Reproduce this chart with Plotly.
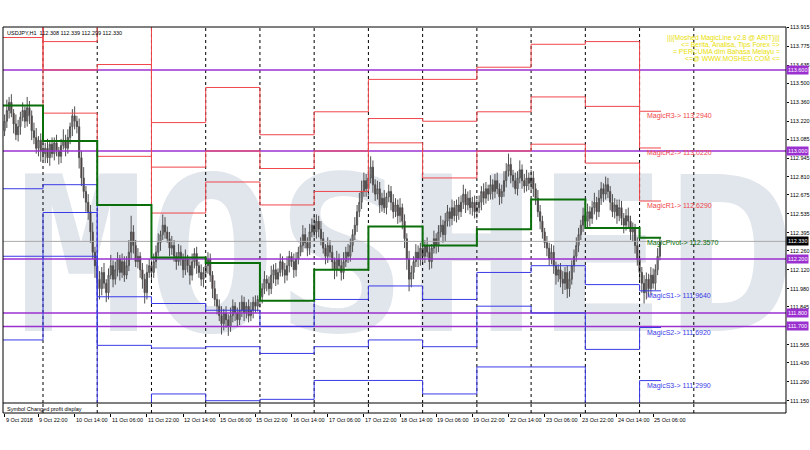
import plotly.graph_objects as go

# ---------------- data ----------------
first_bar = 2
first_open = 113.15
closes = [
    # 9 Oct (bars 2-18)
    113.22, 113.30, 113.36, 113.28, 113.20, 113.12, 113.18, 113.25, 113.30, 113.22, 113.32, 113.26, 113.15, 113.10, 113.02, 113.08, 113.00,
    # 10 Oct
    112.98, 113.02, 112.95, 113.05, 112.98, 113.06, 113.00, 112.96, 113.04, 113.08, 113.02, 113.10, 113.18, 113.26, 113.22, 113.18, 112.95, 112.80, 112.70, 112.62, 112.55, 112.40, 112.25, 112.15,
    # 11 Oct
    112.05, 111.98, 112.10, 112.02, 111.95, 112.08, 112.15, 112.05, 112.12, 112.20, 112.10, 112.18, 112.08, 112.15, 112.25, 112.40, 112.30, 112.18, 112.22, 112.12, 112.05, 111.95, 112.10, 112.15,
    # 12 Oct
    112.10, 112.18, 112.25, 112.32, 112.38, 112.45, 112.40, 112.35, 112.28, 112.30, 112.22, 112.18, 112.25, 112.20, 112.12, 112.20, 112.15, 112.08, 112.18, 112.24, 112.15, 112.10, 112.05, 112.10,
    # 15 Oct
    112.15, 112.20, 112.08, 111.98, 111.90, 111.85, 111.78, 111.72, 111.80, 111.75, 111.70, 111.78, 111.85, 111.80, 111.75, 111.82, 111.88, 111.80, 111.85, 111.78, 111.82, 111.88, 111.85, 111.90,
    # 16 Oct
    111.92, 111.98, 112.05, 112.02, 111.98, 112.08, 112.12, 112.05, 112.10, 112.18, 112.12, 112.08, 112.15, 112.22, 112.18, 112.12, 112.20, 112.25, 112.30, 112.38, 112.32, 112.28, 112.40, 112.45,
    # 17 Oct
    112.40, 112.48, 112.42, 112.35, 112.28, 112.22, 112.30, 112.25, 112.18, 112.12, 112.20, 112.15, 112.10, 112.18, 112.25, 112.22, 112.30, 112.38, 112.45, 112.55, 112.62, 112.70, 112.78, 112.72,
    # 18 Oct
    112.80, 112.88, 112.75, 112.68, 112.72, 112.60, 112.65, 112.58, 112.66, 112.70, 112.62, 112.55, 112.60, 112.52, 112.58, 112.48, 112.35, 112.20, 112.05, 112.10, 112.18, 112.25, 112.20, 112.28,
    # 19 Oct
    112.22, 112.30, 112.25, 112.18, 112.28, 112.35, 112.30, 112.40, 112.45, 112.38, 112.48, 112.55, 112.50, 112.58, 112.52, 112.60, 112.55, 112.62, 112.68, 112.60, 112.65, 112.58, 112.62, 112.55,
    # 22 Oct
    112.58, 112.62, 112.70, 112.65, 112.72, 112.68, 112.75, 112.70, 112.78, 112.72, 112.66, 112.70, 112.78, 112.85, 112.90, 112.82, 112.78, 112.72, 112.80, 112.86, 112.78, 112.74, 112.80, 112.76,
    # 23 Oct
    112.80, 112.72, 112.65, 112.55, 112.48, 112.40, 112.32, 112.28, 112.20, 112.25, 112.15, 112.08, 112.12, 112.05, 112.02, 112.10, 111.98, 112.05, 112.15, 112.22, 112.30, 112.38, 112.45, 112.52,
    # 24 Oct
    112.48, 112.55, 112.50, 112.58, 112.62, 112.55, 112.65, 112.72, 112.68, 112.75, 112.70, 112.62, 112.55, 112.60, 112.52, 112.58, 112.50, 112.45, 112.52, 112.48, 112.40, 112.42, 112.30, 112.20,
    # 25 Oct
    112.10, 112.02, 111.95, 112.05, 111.98, 112.08, 112.02, 112.12, 112.22, 112.33,
]
# wick lengths in 0.01 yen
up_wick = [
    5, 8, 4, 6, 3, 7, 5, 4, 6, 3, 8, 5, 4, 6, 7, 3, 5,
    6, 4, 7, 3, 5, 4, 6, 3, 5, 8, 4, 6, 3, 5, 7, 4, 6, 5, 8, 4, 6, 5, 7, 4,
    5, 6, 4, 7, 3, 5, 8, 4, 6, 5, 3, 6, 4, 7, 9, 12, 5, 4, 6, 3, 5, 4, 6, 5,
    4, 6, 5, 7, 3, 8, 6, 4, 5, 7, 4, 3, 6, 5, 4, 7, 3, 5, 6, 4, 5, 3, 6, 4,
    6, 5, 4, 3, 6, 4, 5, 7, 3, 5, 4, 6, 5, 3, 4, 6, 5, 4, 3, 5, 6, 4, 5, 3,
    5, 4, 6, 3, 5, 7, 4, 5, 3, 6, 4, 5, 7, 4, 3, 6, 5, 4, 6, 7, 5, 4, 6, 5,
    7, 5, 4, 6, 5, 3, 6, 4, 5, 3, 6, 4, 5, 7, 4, 6, 5, 4, 6, 5, 7, 8, 6, 5,
    6, 8, 5, 4, 6, 5, 4, 6, 3, 5, 4, 6, 5, 4, 7, 3, 5, 4, 6, 5, 4, 6, 5, 4,
    5, 4, 6, 5, 3, 6, 4, 5, 7, 4, 6, 5, 3, 6, 5, 4, 6, 5, 7, 4, 5, 6, 4, 5,
    6, 5, 4, 6, 5, 3, 7, 4, 5, 6, 4, 5, 7, 6, 8, 5, 4, 6, 5, 7, 4, 5, 6, 4,
    6, 5, 4, 6, 5, 4, 3, 5, 4, 6, 5, 3, 4, 5, 6, 4, 5, 6, 4, 5, 6, 5, 4, 6,
    5, 6, 4, 5, 7, 4, 6, 5, 4, 6, 5, 4, 6, 5, 4, 6, 5, 4, 5, 6, 4, 5, 4, 6,
    5, 4, 6, 5, 4, 6, 5, 4, 6, 3,
]
dn_wick = [
    4, 5, 6, 3, 7, 4, 5, 6, 3, 5, 4, 6, 7, 5, 4, 6, 8,
    5, 7, 4, 6, 3, 5, 4, 6, 5, 3, 6, 4, 5, 7, 6, 5, 8, 6, 5, 7, 6, 8, 5, 9,
    6, 8, 5, 4, 7, 5, 3, 6, 4, 5, 6, 4, 5, 3, 4, 5, 6, 4, 5, 6, 7, 8, 5, 4,
    6, 4, 5, 3, 6, 4, 5, 3, 6, 5, 4, 6, 3, 5, 6, 4, 5, 7, 4, 5, 6, 4, 5, 6,
    4, 6, 5, 7, 5, 6, 4, 8, 5, 6, 7, 4, 5, 6, 5, 4, 5, 6, 4, 5, 4, 6, 5, 4,
    6, 5, 4, 6, 5, 4, 6, 5, 4, 3, 5, 6, 4, 5, 4, 6, 5, 4, 3, 5, 4, 6, 5, 4,
    4, 5, 6, 5, 4, 6, 5, 4, 6, 7, 5, 4, 6, 5, 4, 5, 4, 5, 4, 5, 4, 5, 4, 6,
    5, 4, 6, 5, 4, 6, 5, 4, 5, 4, 6, 5, 4, 6, 5, 6, 7, 8, 9, 6, 5, 4, 6, 5,
    6, 5, 4, 6, 5, 4, 6, 5, 4, 6, 5, 4, 6, 5, 4, 5, 6, 4, 5, 6, 4, 5, 6, 5,
    5, 4, 6, 5, 4, 5, 4, 6, 5, 4, 6, 5, 4, 5, 4, 6, 5, 4, 5, 4, 6, 5, 4, 5,
    5, 6, 5, 4, 6, 5, 4, 6, 5, 4, 6, 7, 5, 6, 8, 5, 7, 6, 4, 5, 4, 5, 4, 5,
    4, 5, 6, 4, 5, 6, 4, 5, 6, 4, 5, 6, 4, 5, 6, 4, 5, 6, 4, 5, 6, 7, 6, 5,
    6, 7, 8, 5, 6, 5, 4, 5, 4, 3,
]

# daily pivot levels (one value per day, first day = 9 Oct)
day_start_bars = [0, 19, 43, 67, 91, 115, 139, 163, 187, 211, 235, 259, 283]
last_bar_end = 292.5
day_sep_bars = [19, 43, 67, 91, 115, 139, 163, 187, 211, 235, 259, 283, 307]
R3 = [114.96, 113.81, 114.00, 113.21, 113.47, 113.12, 113.29, 113.53, 113.53, 113.62, 113.79, 113.81, 113.294]
R2 = [114.46, 113.60, 113.64, 112.88, 113.00, 112.87, 113.00, 113.24, 113.22, 113.29, 113.40, 113.33, 113.022]
R1 = [113.84, 113.28, 112.96, 112.54, 112.77, 112.60, 112.70, 113.06, 112.80, 113.00, 113.05, 112.91, 112.629]
PV = [113.336, 113.074, 112.60, 112.21, 112.17, 111.89, 112.12, 112.44, 112.30, 112.42, 112.64, 112.43, 112.357]
S1 = [112.72, 112.75, 111.92, 111.87, 111.82, 111.70, 111.90, 112.00, 111.90, 112.10, 112.15, 112.01, 111.964]
S2 = [112.22, 112.544, 111.56, 111.54, 111.55, 111.50, 111.55, 111.60, 111.55, 111.85, 111.80, 111.53, 111.692]
S3 = [111.60, 112.22, 110.88, 111.20, 111.15, 111.16, 111.30, 111.30, 111.20, 111.40, 111.40, 111.11, 111.299]

hlines = [113.600, 113.000, 112.200, 111.800, 111.700]
bid_price = 112.330

tick_bars = [2, 17, 33, 49, 65, 81, 97, 113, 129, 145, 161, 177, 193, 209, 225, 241, 257, 273, 289]
tick_labels = ["9 Oct 2018", "9 Oct 22:00", "10 Oct 14:00", "11 Oct 06:00", "11 Oct 22:00", "12 Oct 14:00",
               "15 Oct 06:00", "15 Oct 22:00", "16 Oct 14:00", "17 Oct 06:00", "17 Oct 22:00", "18 Oct 14:00",
               "19 Oct 06:00", "19 Oct 22:00", "22 Oct 14:00", "23 Oct 06:00", "23 Oct 22:00", "24 Oct 14:00",
               "25 Oct 06:00"]
price_ticks = [113.915, 113.775, 113.635, 113.500, 113.360, 113.220, 113.085, 112.945, 112.810, 112.675,
               112.535, 112.395, 112.260, 112.120, 111.980, 111.845, 111.565, 111.430, 111.290, 111.150]

header = "USDJPY,H1  112.308 112.339 112.299 112.330"
promo_lines = ["|||{Moshed MagicLine v2.8 @ ARIT}|||",
               "<= Berita, Analisa, Tips Forex =>",
               "= PERCUMA dlm Bahasa Melayu =",
               "<=@ WWW.MOSHED.COM <="]
subwindow_title = "Symbol Changed profit display"
watermark = "MOSHED"

# ---------------- derived ----------------
assert len(closes) == len(up_wick) == len(dn_wick), (len(closes), len(up_wick), len(dn_wick))
bars = list(range(first_bar, first_bar + len(closes)))
opens = [first_open] + closes[:-1]
highs = [max(o, c) + u / 100 for o, c, u in zip(opens, closes, up_wick)]
lows = [min(o, c) - d / 100 for o, c, d in zip(opens, closes, dn_wick)]

x_lo, x_hi = 1.3, 347.8
y_lo, y_hi = 111.133, 113.918

W, H = 810, 450
M_L, M_R, M_T, M_B = 3, 24, 27, 37
plot_h = H - M_T - M_B
sub_frac = 10 / plot_h  # bottom strip (indicator sub-window)

RED = "#f0464b"
BLUE = "#3a3ae6"
GREEN = "#0a6e0a"
PURPLE = "#9b30d0"
FONT = "Liberation Sans, Arial, sans-serif"

fig = go.Figure()

# watermark on the base (hidden) axes, so the chart subplot overlays it
fig.add_trace(go.Scatter(
    x=[0.515], y=[0.335], xaxis="x", yaxis="y", mode="text", text=[watermark],
    textfont=dict(size=216, color="#e1e5ec", family="DejaVu Sans Mono, Liberation Mono, monospace", weight="bold"),
    hoverinfo="skip", showlegend=False))

# day separators (main window + sub-window)
sx, sy = [], []
for b in day_sep_bars:
    sx += [b, b, None]
    sy += [y_lo, y_hi, None]
fig.add_trace(go.Scatter(x=sx, y=sy, xaxis="x2", yaxis="y2", mode="lines",
                         line=dict(color="#000000", width=1, dash="dot"), hoverinfo="skip", showlegend=False))
sx2, sy2 = [], []
for b in day_sep_bars:
    sx2 += [b, b, None]
    sy2 += [0, 1, None]
fig.add_trace(go.Scatter(x=sx2, y=sy2, xaxis="x2", yaxis="y3", mode="lines",
                         line=dict(color="#000000", width=1, dash="dot"), hoverinfo="skip", showlegend=False))

# horizontal purple lines
hx, hy = [], []
for p in hlines:
    hx += [x_lo, x_hi, None]
    hy += [p, p, None]
fig.add_trace(go.Scatter(x=hx, y=hy, xaxis="x2", yaxis="y2", mode="lines", line=dict(color=PURPLE, width=1.5),
                         hoverinfo="skip", showlegend=False))
fig.add_trace(go.Scatter(x=[x_lo, x_hi], y=[bid_price, bid_price], xaxis="x2", yaxis="y2", mode="lines",
                         line=dict(color="#a9a9a9", width=1), hoverinfo="skip", showlegend=False))

# pivot step lines
step_x = day_start_bars + [last_bar_end]
for vals, col, w in [(R3, RED, 1), (R2, RED, 1), (R1, RED, 1), (S1, BLUE, 1), (S2, BLUE, 1), (S3, BLUE, 1), (PV, GREEN, 2)]:
    fig.add_trace(go.Scatter(x=step_x, y=vals + [vals[-1]], xaxis="x2", yaxis="y2", mode="lines",
                             line=dict(color=col, width=w, shape="hv"), hoverinfo="skip", showlegend=False))

# candles
fig.add_trace(go.Candlestick(
    x=bars, open=opens, high=highs, low=lows, close=closes, xaxis="x2", yaxis="y2",
    increasing=dict(line=dict(color="#505050", width=1), fillcolor="#a8a8a8"),
    decreasing=dict(line=dict(color="#505050", width=1), fillcolor="#4a1212"),
    whiskerwidth=0, showlegend=False, hoverinfo="skip"))

annotations = []
for b, t in zip(tick_bars, tick_labels):
    annotations.append(dict(x=b, xref="x2", y=0, yref="paper", yanchor="top", xanchor="left", yshift=-2, xshift=-1,
                            text=t, showarrow=False, font=dict(size=5.5, color="#000000", family=FONT)))
for p in hlines:
    annotations.append(dict(x=1, xref="paper", y=p, yref="y2", xanchor="left", yanchor="middle",
                            text=f"{p:.3f}", showarrow=False, bgcolor=PURPLE, borderpad=1,
                            font=dict(size=5.5, color="#ffffff", family=FONT)))
annotations.append(dict(x=1, xref="paper", y=bid_price, yref="y2", xanchor="left", yanchor="middle",
                        text=f"{bid_price:.3f}", showarrow=False, bgcolor="#000000", borderpad=1,
                        font=dict(size=5.5, color="#ffffff", family=FONT)))
label_x = day_start_bars[-1] + 2.6
for name, vals, col in [("MagicR3", R3, RED), ("MagicR2", R2, RED), ("MagicR1", R1, RED), ("MagicPivot", PV, GREEN),
                        ("MagicS1", S1, BLUE), ("MagicS2", S2, BLUE), ("MagicS3", S3, BLUE)]:
    annotations.append(dict(x=label_x, xref="x2", y=vals[-1], yref="y2", xanchor="left", yanchor="top", yshift=1,
                            text=f"{name}-> {vals[-1]:.4f}", showarrow=False,
                            font=dict(size=7, color=col, family=FONT)))
annotations.append(dict(x=0, xref="paper", y=1, yref="paper", xanchor="left", yanchor="top", xshift=2, yshift=-1,
                        text=header, showarrow=False, font=dict(size=5.5, color="#000000", family=FONT)))
for i, line in enumerate(promo_lines):
    annotations.append(dict(x=1, xref="paper", y=1, yref="paper", xanchor="right", yanchor="top",
                            xshift=-4, yshift=-5 - 7 * i, text=line, showarrow=False,
                            font=dict(size=6.8, color="#e8e000", family=FONT)))
annotations.append(dict(x=0, xref="paper", y=sub_frac, yref="paper", xanchor="left", yanchor="top", xshift=2, yshift=-1,
                        text=subwindow_title, showarrow=False,
                        font=dict(size=5.5, color="#000000", family=FONT)))

shapes = [
    dict(type="rect", xref="paper", yref="paper", x0=0, x1=1, y0=0, y1=1, line=dict(color="#000000", width=1), layer="above"),
    dict(type="line", xref="paper", yref="paper", x0=0, x1=1, y0=sub_frac, y1=sub_frac, line=dict(color="#000000", width=1), layer="above"),
]

fig.update_layout(
    width=W, height=H, margin=dict(l=M_L, r=M_R, t=M_T, b=M_B),
    paper_bgcolor="#ffffff", plot_bgcolor="#ffffff", showlegend=False,
    annotations=annotations, shapes=shapes,
    # base axes: hold only the background watermark
    xaxis=dict(range=[0, 1], domain=[0, 1], visible=False, fixedrange=True, automargin=False),
    yaxis=dict(range=[0, 1], domain=[sub_frac, 1], visible=False, fixedrange=True, automargin=False),
    # chart axes drawn on top of the watermark
    xaxis2=dict(range=[x_lo, x_hi], overlaying="x", anchor="y3", rangeslider=dict(visible=False),
                showgrid=False, zeroline=False, showline=False, automargin=False,
                tickvals=tick_bars, ticks="outside", ticklen=3, tickcolor="#000000", showticklabels=False),
    yaxis2=dict(range=[y_lo, y_hi], overlaying="y", side="right", anchor="x2", showgrid=False, zeroline=False,
                showline=False, automargin=False,
                tickvals=price_ticks, ticktext=[f"{v:.3f}" for v in price_ticks],
                ticks="outside", ticklen=2, tickcolor="#000000",
                tickfont=dict(size=5.5, color="#000000", family=FONT)),
    yaxis3=dict(range=[0, 1], domain=[0, sub_frac], showgrid=False, zeroline=False, showticklabels=False,
                automargin=False, anchor="x2"),
)

fig.write_html("out.html", config={"displayModeBar": False},
               post_script="document.body.style.margin='0px';")
